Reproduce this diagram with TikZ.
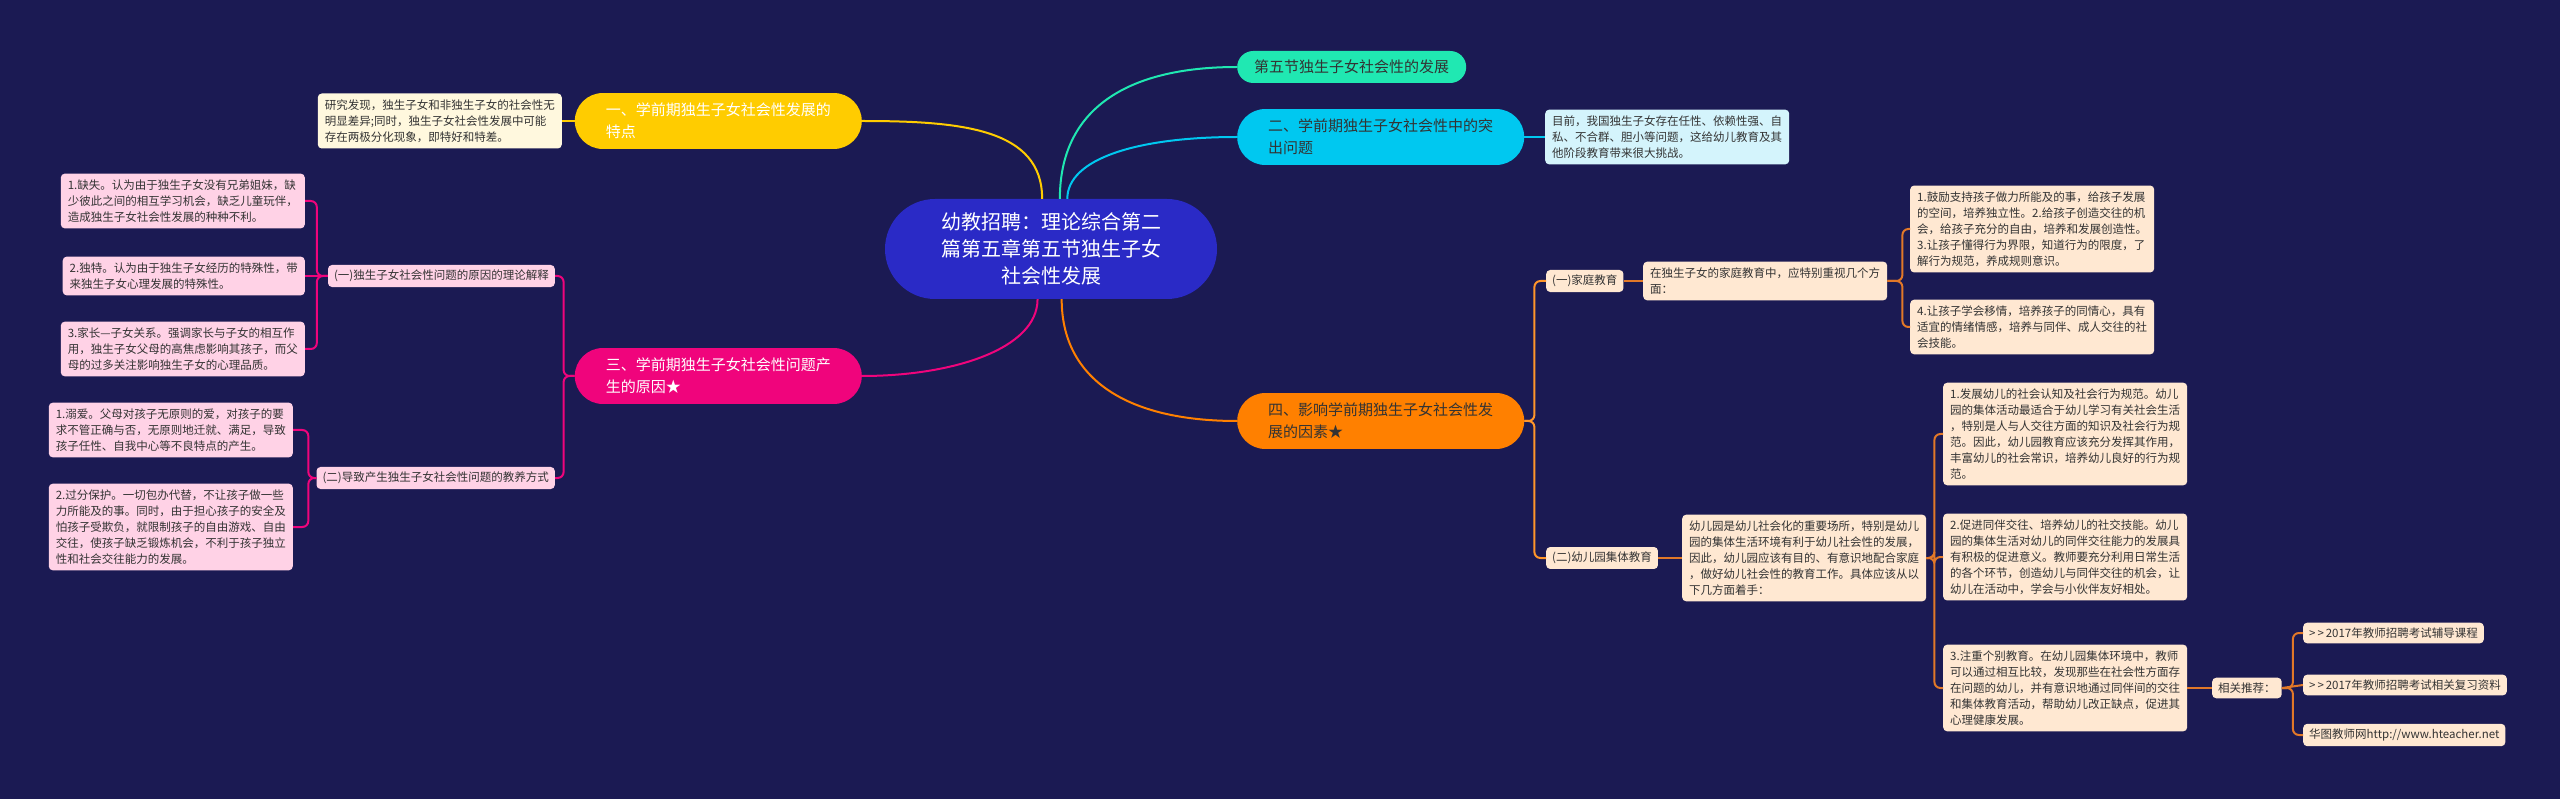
\documentclass[tikz,border=0pt]{standalone}
\usepackage{fontspec}
\setmainfont{Noto Sans CJK SC}
\definecolor{bgnavy}{RGB}{27,26,83}
\definecolor{centreblue}{RGB}{42,42,198}
\definecolor{mint}{RGB}{32,232,178}
\definecolor{skycyan}{RGB}{0,200,240}
\definecolor{paleblue}{RGB}{212,244,252}
\definecolor{gold}{RGB}{255,204,0}
\definecolor{cream}{RGB}{255,248,222}
\definecolor{rose}{RGB}{240,4,124}
\definecolor{pinkfill}{RGB}{255,210,230}
\definecolor{tangerine}{RGB}{255,128,0}
\definecolor{peach}{RGB}{255,232,210}
\definecolor{inkgray}{RGB}{51,51,51}
\definecolor{brownline}{RGB}{226,120,40}

\begin{document}
\begin{tikzpicture}[x=1pt,y=-1pt,
	detail/.style={rounded corners=4pt, align=left, inner xsep=7pt, inner ysep=6pt, text=inkgray, font=\fontsize{11.5}{16}\selectfont},
	label/.style={detail, inner xsep=6pt, inner ysep=5pt},
	topic/.style={rounded corners=28pt, align=left, minimum width=287pt, inner ysep=10pt, font=\fontsize{15}{22}\selectfont},
	link/.style={line width=2pt, rounded corners=6pt}]
	\fill[bgnavy] (0,0) rectangle (2560,799);
	\useasboundingbox (0,0) rectangle (2560,799);

	% centre
	\node[fill=centreblue, text=white, rounded corners=50pt, minimum width=332pt, minimum height=100pt, align=center, font=\fontsize{20}{27}\selectfont] (centre) at (1051,249) {幼教招聘：理论综合第二\\篇第五章第五节独生子女\\社会性发展};

	% right side, top
	\node[topic, fill=mint, text=inkgray, minimum width=0pt, inner xsep=17pt, inner ysep=9pt, rounded corners=16pt, anchor=west] (fifth) at (1237,67) {第五节独生子女社会性的发展};
	\node[topic, fill=skycyan, text=inkgray, anchor=west] (two) at (1237,137) {二、学前期独生子女社会性中的突\\出问题};
	\node[detail, fill=paleblue, anchor=west] (issue) at (1545,137) {目前，我国独生子女存在任性、依赖性强、自\\私、不合群、胆小等问题，这给幼儿教育及其\\他阶段教育带来很大挑战。};

	% left side, top
	\node[topic, fill=gold, text=white, anchor=east] (one) at (862,121) {一、学前期独生子女社会性发展的\\特点};
	\node[detail, fill=cream, anchor=east] (finding) at (562,121) {研究发现，独生子女和非独生子女的社会性无\\明显差异;同时，独生子女社会性发展中可能\\存在两极分化现象，即特好和特差。};

	% left side, causes
	\node[topic, fill=rose, text=white, anchor=east] (three) at (862,376) {三、学前期独生子女社会性问题产\\生的原因★};
	\node[label, fill=pinkfill, anchor=east] (theory) at (555,276) {(一)独生子女社会性问题的原因的理论解释};
	\node[label, fill=pinkfill, anchor=east] (parenting) at (555,478) {(二)导致产生独生子女社会性问题的教养方式};
	\node[detail, fill=pinkfill, anchor=east] (lack) at (305,201) {1.缺失。认为由于独生子女没有兄弟姐妹，缺\\少彼此之间的相互学习机会，缺乏儿童玩伴，\\造成独生子女社会性发展的种种不利。};
	\node[detail, fill=pinkfill, anchor=east] (unique) at (305,276) {2.独特。认为由于独生子女经历的特殊性，带\\来独生子女心理发展的特殊性。};
	\node[detail, fill=pinkfill, anchor=east] (relation) at (305,349) {3.家长—子女关系。强调家长与子女的相互作\\用，独生子女父母的高焦虑影响其孩子，而父\\母的过多关注影响独生子女的心理品质。};
	\node[detail, fill=pinkfill, anchor=east] (spoil) at (293,430) {1.溺爱。父母对孩子无原则的爱，对孩子的要\\求不管正确与否，无原则地迁就、满足，导致\\孩子任性、自我中心等不良特点的产生。};
	\node[detail, fill=pinkfill, anchor=east] (overprotect) at (293,527) {2.过分保护。一切包办代替，不让孩子做一些\\力所能及的事。同时，由于担心孩子的安全及\\怕孩子受欺负，就限制孩子的自由游戏、自由\\交往，使孩子缺乏锻炼机会，不利于孩子独立\\性和社会交往能力的发展。};

	% right side, factors
	\node[topic, fill=tangerine, text=inkgray, anchor=west] (four) at (1237,421) {四、影响学前期独生子女社会性发\\展的因素★};
	\node[label, fill=peach, anchor=west] (family) at (1546,281) {(一)家庭教育};
	\node[detail, fill=peach, anchor=west] (familytext) at (1643,281) {在独生子女的家庭教育中，应特别重视几个方\\面：};
	\node[detail, fill=peach, anchor=west] (famA) at (1910,229) {1.鼓励支持孩子做力所能及的事，给孩子发展\\的空间，培养独立性。2.给孩子创造交往的机\\会，给孩子充分的自由，培养和发展创造性。\\3.让孩子懂得行为界限，知道行为的限度，了\\解行为规范，养成规则意识。};
	\node[detail, fill=peach, anchor=west] (famB) at (1910,327) {4.让孩子学会移情，培养孩子的同情心，具有\\适宜的情绪情感，培养与同伴、成人交往的社\\会技能。};
	\node[label, fill=peach, anchor=west] (school) at (1546,558) {(二)幼儿园集体教育};
	\node[detail, fill=peach, anchor=west] (schooltext) at (1682,558) {幼儿园是幼儿社会化的重要场所，特别是幼儿\\园的集体生活环境有利于幼儿社会性的发展，\\因此，幼儿园应该有目的、有意识地配合家庭\\，做好幼儿社会性的教育工作。具体应该从以\\下几方面着手：};
	\node[detail, fill=peach, anchor=west] (schA) at (1943,434) {1.发展幼儿的社会认知及社会行为规范。幼儿\\园的集体活动最适合于幼儿学习有关社会生活\\，特别是人与人交往方面的知识及社会行为规\\范。因此，幼儿园教育应该充分发挥其作用，\\丰富幼儿的社会常识，培养幼儿良好的行为规\\范。};
	\node[detail, fill=peach, anchor=west] (schB) at (1943,557) {2.促进同伴交往、培养幼儿的社交技能。幼儿\\园的集体生活对幼儿的同伴交往能力的发展具\\有积极的促进意义。教师要充分利用日常生活\\的各个环节，创造幼儿与同伴交往的机会，让\\幼儿在活动中，学会与小伙伴友好相处。};
	\node[detail, fill=peach, anchor=west] (schC) at (1943,688) {3.注重个别教育。在幼儿园集体环境中，教师\\可以通过相互比较，发现那些在社会性方面存\\在问题的幼儿，并有意识地通过同伴间的交往\\和集体教育活动，帮助幼儿改正缺点，促进其\\心理健康发展。};
	\node[label, fill=peach, anchor=west] (related) at (2212,688) {相关推荐：};
	\node[label, fill=peach, anchor=west] (course) at (2303,633) {{>}\,{>}\,2017年教师招聘考试辅导课程};
	\node[label, fill=peach, anchor=west] (review) at (2303,685) {{>}\,{>}\,2017年教师招聘考试相关复习资料};
	\node[label, fill=peach, anchor=west] (site) at (2303,735) {华图教师网http://www.hteacher.net};

	% main branches
	\draw[link, mint] (centre.80) .. controls +(0,-90) and +(-110,0) .. (fifth.west);
	\draw[link, skycyan] (centre.72) .. controls +(0,-40) and +(-100,0) .. (two.west);
	\draw[link, gold] (centre.100) .. controls +(0,-70) and +(100,0) .. (one.east);
	\draw[link, rose] (centre.255) .. controls +(0,50) and +(90,0) .. (three.east);
	\draw[link, tangerine] (centre.-78) .. controls +(0,80) and +(-110,0) .. (four.west);

	% sub branches
	\draw[link, skycyan] (two.east) -- (issue.west);
	\draw[link, gold] (one.west) -- (finding.east);
	\draw[link, rose] (three.west) -- ++(-11,0) |- (theory.east);
	\draw[link, rose] (three.west) -- ++(-11,0) |- (parenting.east);
	\draw[link, rose] (theory.west) -- ++(-11,0) |- (lack.east);
	\draw[link, rose] (theory.west) -- (unique.east);
	\draw[link, rose] (theory.west) -- ++(-11,0) |- (relation.east);
	\draw[link, rose] (parenting.west) -- ++(-8,0) |- (spoil.east);
	\draw[link, rose] (parenting.west) -- ++(-8,0) |- (overprotect.east);
	\draw[link, tangerine!80!peach] (four.east) -- ++(10,0) |- (family.west);
	\draw[link, tangerine!80!peach] (four.east) -- ++(10,0) |- (school.west);
	\draw[link, brownline] (family.east) -- (familytext.west);
	\draw[link, brownline] (familytext.east) -- ++(15,0) |- (famA.west);
	\draw[link, brownline] (familytext.east) -- ++(15,0) |- (famB.west);
	\draw[link, brownline] (school.east) -- (schooltext.west);
	\draw[link, brownline] (schooltext.east) -- ++(8,0) |- (schA.west);
	\draw[link, brownline] (schooltext.east) -- ++(8,0) |- (schB.west);
	\draw[link, brownline] (schooltext.east) -- ++(8,0) |- (schC.west);
	\draw[link, brownline] (schC.east) -- (related.west);
	\draw[link, brownline] (related.east) -- ++(11,0) |- (course.west);
	\draw[link, brownline] (related.east) -- (review.west);
	\draw[link, brownline] (related.east) -- ++(11,0) |- (site.west);
\end{tikzpicture}
\end{document}
